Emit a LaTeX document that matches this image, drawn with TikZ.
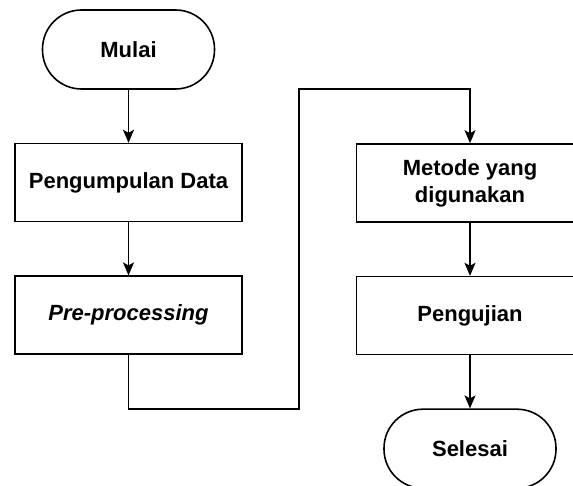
\documentclass[tikz,border=0pt]{standalone}
\usepackage{fontspec}
\setmainfont{Liberation Sans}
\usetikzlibrary{arrows.meta,positioning}

\begin{document}
\begin{tikzpicture}[x=1pt,y=1pt,
  proses/.style={draw,line width=1.6pt,minimum width=227pt,minimum height=78pt,inner sep=0pt,align=center,font=\fontsize{22}{27}\selectfont\bfseries},
  terminal/.style={draw,line width=1.6pt,rounded corners=39pt,minimum width=172pt,minimum height=79pt,inner sep=0pt,font=\fontsize{22}{27}\selectfont\bfseries},
  panah/.style={line width=1.6pt,-{Stealth[length=13pt,width=11pt,inset=3pt]}}]

%Ukuran gambar
\def \lebar{573}
\def \tinggi{486}
\def \jarak{53}

\useasboundingbox (0,0) rectangle (\lebar,\tinggi);
\clip (0,0) rectangle (\lebar,\tinggi);

%Kolom kiri
\node[terminal] (mulai) at (128.5,436.5) {Mulai};
\node[proses, below=\jarak pt of mulai] (kumpul) {Pengumpulan Data};
\node[proses, below=\jarak pt of kumpul] (pre) {\itshape Pre-processing};

%Kolom kanan
\node[proses] (metode) at (470,303) {Metode yang\\digunakan};
\node[proses, below=\jarak pt of metode] (uji) {Pengujian};
\node[terminal, below=\jarak pt of uji] (selesai) {Selesai};

%Titik belok
\coordinate (belok1) at (299,77);
\coordinate (belok2) at (299,397);

%Panah
\draw[panah] (mulai) -- (kumpul);
\draw[panah] (kumpul) -- (pre);
\draw[panah] (pre.south) |- (belok1) -- (belok2) -| (metode.north);
\draw[panah] (metode) -- (uji);
\draw[panah] (uji) -- (selesai);

\end{tikzpicture}
\end{document}
